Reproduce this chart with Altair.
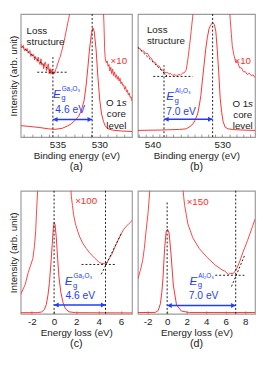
import altair as alt
import pandas as pd

FONT = "Liberation Sans"
RED = "#ff2e2e"
BLUE = "#1e3cff"
INK = "#1b1b1b"

# ---------------- (a) Ga2O3 : O 1s spectrum (binding energy, eV) ----------------
a_main_E = [539.40, 538.30, 537.20, 536.10, 535.33, 534.45, 533.80, 533.36, 532.92, 532.48,
            532.15, 531.82, 531.60, 531.38, 531.16, 530.94, 530.77, 530.61, 530.39, 530.17,
            529.95, 529.73, 529.51, 529.29, 528.96, 528.41, 527.31, 526.10]
a_main_v = [9.3, 8.6, 7.8, 6.7, 6.3, 7.1, 9.0, 10.8, 13.4, 16.8,
            21.6, 29.9, 41.0, 56.0, 72.4, 84.3, 88.8, 85.8, 70.9, 48.5,
            29.9, 18.7, 12.7, 9.0, 6.7, 5.6, 4.9, 4.5]
a_x10_E = [539.40, 539.29, 539.18, 539.07, 538.96, 538.85, 538.74, 538.63, 538.52, 538.41,
           538.30, 538.19, 538.08, 537.97, 537.86, 537.75, 537.64, 537.53, 537.42, 537.31,
           537.20, 537.09, 536.98, 536.87, 536.76, 536.65, 536.54, 536.43, 536.32, 536.21,
           536.10, 535.99, 535.88, 535.77, 535.66, 535.55,
           535.44, 535.33, 535.22, 535.11, 535.00, 534.89, 534.78, 534.67, 534.56, 534.45,
           534.34, 534.23, 534.12, 534.01, 533.91, 533.80, 533.69, 533.58, 533.47,
           532.60, 531.60, 530.80, 530.00, 529.70,
           529.56, 529.45, 529.36, 529.29,
           529.18, 529.07, 528.96, 528.85, 528.74, 528.63, 528.52, 528.41, 528.30, 528.19,
           528.08, 527.97, 527.86, 527.75, 527.64, 527.53, 527.42, 527.31, 527.20, 527.09,
           526.98, 526.87, 526.76, 526.65, 526.54, 526.43, 526.32, 526.21, 526.10]
a_x10_v = [75.7, 72.4, 74.0, 74.6, 70.2, 71.8, 70.0, 72.0, 68.2, 69.1,
           70.4, 65.5, 67.8, 65.8, 67.2, 62.6, 65.5, 63.9, 61.4, 65.0,
           61.0, 59.0, 63.6, 58.4, 59.9, 55.5, 60.4, 60.9, 54.0, 57.1,
           59.5, 51.4, 55.7, 51.1, 55.0, 51.3,
           52.5, 51.8, 55.0, 56.5, 59.5, 61.0, 63.8, 65.2, 68.5, 70.9,
           74.5, 77.2, 81.0, 84.8, 88.0, 92.0, 95.5, 99.0, 103.0,
           250, 500, 850, 400, 150,
           110, 92, 70, 63.4,
           60.4, 61.9, 57.5, 59.0, 53.7, 56.7, 51.5, 55.2, 50.0, 53.0,
           48.5, 50.7, 47.0, 49.3, 45.5, 47.8, 43.3, 44.8, 41.8, 42.5,
           38.8, 41.0, 36.6, 38.1, 34.3, 35.8, 32.1, 32.8, 29.1]
# dashed guide segments: E1, E2, v1, v2
a_dash_E1 = [539.21, 537.42, 535.55, 530.86]
a_dash_E2 = [535.37, 533.91, 535.55, 530.86]
a_dash_v1 = [73.4, 52.7, 0, 0]
a_dash_v2 = [51.0, 52.7, 64.9, 100]
a_arrow = [535.55, 530.86, 14.2]

# ---------------- (b) Al2O3 : O 1s spectrum ----------------
b_main_E = [542.10, 538.91, 536.13, 535.16, 534.60, 534.18, 533.91, 533.53, 533.28, 533.07,
            532.84, 532.61, 532.38, 532.14, 531.89, 531.68, 531.36, 531.13, 530.92, 530.71,
            530.50, 530.29, 530.08, 529.88, 529.60, 529.18, 528.49, 527.10, 525.30]
b_main_v = [5.4, 5.7, 6.2, 6.7, 8.7, 10.8, 13.7, 18.7, 26.1, 33.6,
            46.3, 58.4, 70.9, 80.8, 88.1, 90.8, 93.3, 91.4, 85.8, 70.9,
            52.2, 31.3, 20.1, 12.7, 8.2, 6.7, 6.1, 5.7, 5.4]
b_x10_E = [542.10, 541.82, 541.54, 541.27, 540.99, 540.71, 540.43, 540.16, 539.88, 539.60,
           539.32, 539.04, 538.77, 538.49, 538.21, 537.93, 537.66, 537.38, 537.10, 536.82,
           536.54, 536.27, 535.99, 535.71, 535.43, 535.16, 534.92, 534.70, 534.46, 534.23,
           534.04,
           533.30, 532.40, 531.40, 530.50, 529.60,
           528.98, 528.84, 528.70, 528.56, 528.35, 528.07, 527.79, 527.51, 527.24, 526.96,
           526.68, 526.41, 526.13, 525.85, 525.57, 525.30]
b_x10_v = [72.3, 72.2, 69.9, 70.1, 67.9, 68.1, 64.9, 64.0, 61.1, 60.7,
           58.0, 57.7, 54.9, 54.4, 52.1, 52.8, 51.2, 51.7, 50.1, 50.9,
           49.5, 51.1, 50.4, 51.9, 52.3, 54.7, 63.4, 73.4, 85.8, 98.3,
           106.7,
           220, 550, 900, 500, 180,
           104.5, 94.8, 84.3, 73.9, 67.2, 61.0, 60.7, 56.3, 56.2, 53.1,
           53.1, 50.8, 51.9, 50.0, 50.5, 48.3]
b_dash_E1 = [542.10, 539.88, 538.35, 531.38]
b_dash_E2 = [537.70, 534.23, 538.35, 531.38]
b_dash_v1 = [72.9, 49.3, 0, 0]
b_dash_v2 = [48.5, 49.3, 58.4, 100]
b_arrow = [538.35, 531.38, 14.4]

# ---------------- (c) Ga2O3 : energy-loss spectrum ----------------
c_main_E = [-3.00, -1.52, -1.11, -0.87, -0.70, -0.54, -0.42, -0.30, -0.17, -0.07,
            0.01, 0.09, 0.20, 0.32, 0.44, 0.61, 0.81, 1.02, 1.34, 1.92, 7.00]
c_main_v = [0.9, 0.9, 1.5, 3.4, 7.5, 15.7, 25.4, 38.8, 56.0, 69.4,
            74.3, 72.4, 61.9, 44.8, 29.9, 17.2, 9.0, 4.1, 1.6, 0.9, 0.7]
c_x100_E = [-3.00, -2.59, -2.32, -2.10, -1.91, -1.77, -1.65, -1.57, -1.48, -1.43,
            -1.0, 0.0, 1.0,
            1.47, 1.55, 1.65, 1.75, 1.92, 2.12, 2.33, 2.57, 2.88, 3.15,
            3.42, 3.70, 3.97, 4.24, 4.52, 4.66, 4.79, 4.95, 5.20, 5.40,
            5.61, 5.82, 6.02, 6.26, 6.51, 6.75, 7.00]
c_x100_v = [15.7, 23.9, 33.6, 39.6, 44.8, 54.5, 67.9, 84.3, 99.3, 108.2,
            300, 700, 300,
            106.7, 95.5, 88.1, 80.6, 73.1, 67.2, 61.9, 57.5, 53.2, 50.0,
            47.4, 44.8, 42.5, 41.0, 40.7, 41.0, 42.2, 44.8, 48.5, 53.0,
            57.1, 61.2, 64.9, 68.7, 71.3, 73.5, 75.7]
c_dash_E1 = [4.24, 2.47, 0.0, 4.62]
c_dash_E2 = [6.02, 5.47, 0.0, 4.62]
c_dash_v1 = [32.1, 40.1, 0, 0]
c_dash_v2 = [64.9, 40.1, 100, 100]
c_arrow = [0.0, 4.62, 7.2]

# ---------------- (d) Al2O3 : energy-loss spectrum ----------------
d_main_E = [-3.00, -1.22, -0.92, -0.69, -0.55, -0.43, -0.26, -0.10, 0.04, 0.20,
            0.40, 0.63, 0.96, 1.46, 2.28, 9.00]
d_main_v = [1.0, 1.1, 2.6, 8.2, 17.2, 28.4, 53.2, 66.9, 68.7, 65.7,
            48.3, 23.4, 7.2, 2.2, 1.0, 1.0]
d_x150_E = [-3.00, -2.75, -2.51, -2.34, -2.18, -1.94, -1.75,
            -1.0, 0.0, 1.0,
            1.56, 1.69, 1.79, 2.12, 2.62, 3.27, 4.11, 4.93, 5.60, 5.92,
            6.25, 6.50, 6.75, 7.08, 7.41, 7.74, 8.23, 8.73, 9.00]
d_x150_v = [28.4, 35.1, 43.3, 53.0, 65.7, 83.1, 103.0,
            300, 700, 300,
            106.7, 95.5, 88.1, 73.1, 61.9, 53.2, 45.7, 39.6, 35.8, 34.6,
            32.1, 32.9, 32.6, 35.8, 42.0, 49.5, 59.5, 70.7, 76.9]
d_dash_E1 = [6.59, 4.93, 0.0, 7.02]
d_dash_E2 = [7.91, 7.90, 0.0, 7.02]
d_dash_v1 = [22.2, 31.3, 0, 0]
d_dash_v2 = [47.0, 31.3, 91.8, 100]
d_arrow = [0.0, 7.02, 6.7]


def label(E, v, text, X, Y, **mk):
    df = pd.DataFrame({"E": [E], "v": [v], "t": [text]})
    style = dict(font=FONT, fontSize=10, color=INK, align="left", baseline="middle")
    style.update(mk)
    return alt.Chart(df).mark_text(**style).encode(x=X, y=Y, text="t:N")


def build(main_E, main_v, sc_E, sc_v, dE1, dE2, dv1, dv2, arrow,
          xdom, reverse, ticks, labeled, xtitle, ytitle, caption, w, h,
          scale_text, scale_pos, eg_pos, eg_sup, gap_pos, gap_text,
          loss_pos=None, core_pos=None):
    lab_list = "[" + ",".join(str(v) for v in labeled) + "]"
    X = alt.X("E:Q",
              scale=alt.Scale(domain=xdom, reverse=reverse, nice=False, zero=False),
              axis=alt.Axis(values=ticks, title=xtitle,
                            labelExpr="indexof(" + lab_list + ", datum.value) >= 0 ? ((datum.value < 0 ? '-' : '') + abs(datum.value)) : ''",
                            offset=-3, tickSize=3, tickColor="#808080", tickWidth=0.8,
                            domain=False, labelPadding=3, titlePadding=1,
                            labelFlush=False))
    if ytitle:
        yax = alt.Axis(title=ytitle, labels=False, ticks=False, domain=False,
                       grid=False, titlePadding=2)
    else:
        yax = None
    Y = alt.Y("v:Q", scale=alt.Scale(domain=[0, 100], nice=False, zero=False), axis=yax)

    main = alt.Chart(pd.DataFrame({"E": main_E, "v": main_v})).mark_line(
        color=RED, strokeWidth=1, clip=True).encode(x=X, y=Y)
    scaled = alt.Chart(pd.DataFrame({"E": sc_E, "v": sc_v})).mark_line(
        color=RED, strokeWidth=0.9, clip=True).encode(x=X, y=Y)
    dash = alt.Chart(pd.DataFrame({"E": dE1, "E2": dE2, "v": dv1, "v2": dv2})).mark_rule(
        color=INK, strokeDash=[2, 2], strokeWidth=1).encode(
        x=X, x2=alt.X2("E2"), y=Y, y2=alt.Y2("v2"))
    arr = alt.Chart(pd.DataFrame({"E": [arrow[0]], "E2": [arrow[1]], "v": [arrow[2]]})).mark_rule(
        color=BLUE, strokeWidth=1.5).encode(x=X, x2=alt.X2("E2"), y=Y)
    left_E = max(arrow[0], arrow[1]) if reverse else min(arrow[0], arrow[1])
    right_E = min(arrow[0], arrow[1]) if reverse else max(arrow[0], arrow[1])
    headL = alt.Chart(pd.DataFrame({"E": [left_E], "v": [arrow[2]]})).mark_point(
        shape="triangle-left", filled=True, color=BLUE, opacity=1, size=26, xOffset=2.5).encode(x=X, y=Y)
    headR = alt.Chart(pd.DataFrame({"E": [right_E], "v": [arrow[2]]})).mark_point(
        shape="triangle-right", filled=True, color=BLUE, opacity=1, size=26, xOffset=-2.5).encode(x=X, y=Y)

    layers = [main, scaled, dash, arr, headL, headR]
    layers.append(label(scale_pos[0], scale_pos[1], scale_text, X, Y, color=RED, align="center"))
    layers.append(label(eg_pos[0], eg_pos[1], "E", X, Y, color=BLUE, fontSize=12, fontStyle="italic"))
    layers.append(label(eg_pos[0], eg_pos[1], "g", X, Y, color=BLUE, fontSize=8, dx=8.5, dy=4.5))
    layers.append(label(eg_pos[0], eg_pos[1], eg_sup, X, Y, color=BLUE, fontSize=6.5, dx=9, dy=-5.5))
    layers.append(label(gap_pos[0], gap_pos[1], gap_text, X, Y, color=BLUE, fontSize=10.5))
    if loss_pos:
        layers.append(label(loss_pos[0], loss_pos[1], "Loss", X, Y, baseline="alphabetic"))
        layers.append(label(loss_pos[0], loss_pos[2], "structure", X, Y, baseline="alphabetic"))
    if core_pos:
        layers.append(label(core_pos[0], core_pos[1], "O 1", X, Y, align="right", dx=5.5))
        layers.append(label(core_pos[0], core_pos[1], "s", X, Y, fontStyle="italic", dx=5.5))
        layers.append(label(core_pos[0], core_pos[2], "core", X, Y, align="center"))
        layers.append(label(core_pos[0], core_pos[3], "level", X, Y, align="center"))

    return alt.layer(*layers).properties(
        width=w, height=h,
        title=alt.TitleParams(caption, orient="bottom", offset=1, frame="group",
                              font=FONT, fontSize=11, fontWeight="normal", color=INK))


W1, W2, H1, H2 = 114, 120, 126, 126

pa = build(a_main_E, a_main_v, a_x10_E, a_x10_v, a_dash_E1, a_dash_E2, a_dash_v1, a_dash_v2, a_arrow,
           [526.1, 539.4], True, list(range(527, 540)), [535, 530],
           "Binding energy (eV)", "Intensity (arb. unit)", "(a)", W1, H1,
           "\u00d710", (527.67, 61.9), (535.55, 35.0), "Ga\u2082O\u2083", (535.26, 21.6), "4.6 eV",
           loss_pos=(538.7, 83.9, 75.1), core_pos=(527.97, 27.6, 18.3, 9.2))
pb = build(b_main_E, b_main_v, b_x10_E, b_x10_v, b_dash_E1, b_dash_E2, b_dash_v1, b_dash_v2, b_arrow,
           [525.3, 542.1], True, list(range(526, 543)), [540, 530],
           "Binding energy (eV)", None, "(b)", W2, H1,
           "\u00d710", (527.06, 61.4), (538.03, 33.0), "Al\u2082O\u2083", (538.03, 20.5), "7.0 eV",
           loss_pos=(540.8, 84.6, 75.4), core_pos=(527.06, 27.0, 17.9, 8.7))
pc = build(c_main_E, c_main_v, c_x100_E, c_x100_v, c_dash_E1, c_dash_E2, c_dash_v1, c_dash_v2, c_arrow,
           [-3, 7], False, [-2, 0, 2, 4, 6], [-2, 0, 2, 4, 6],
           "Energy loss (eV)", "Intensity (arb. unit)", "(c)", W1, H2,
           "\u00d7100", (2.88, 91.4), (0.96, 26.3), "Ga\u2082O\u2083", (1.02, 14.2), "4.6 eV")
pd_ = build(d_main_E, d_main_v, d_x150_E, d_x150_v, d_dash_E1, d_dash_E2, d_dash_v1, d_dash_v2, d_arrow,
            [-3, 9], False, [-2, 0, 2, 4, 6, 8], [-2, 0, 2, 4, 6, 8],
            "Energy loss (eV)", None, "(d)", W2, H2,
            "\u00d7150", (3.12, 90.5), (2.28, 26.6), "Al\u2082O\u2083", (2.22, 14.2), "7.0 eV")

chart = alt.concat(pa, pb, pc, pd_, columns=2, spacing={"row": 55, "column": 6},
                   bounds="flush").properties(padding=0).configure_view(
    stroke="#9c9c9c", strokeWidth=1.2).configure_axis(
    labelFont=FONT, titleFont=FONT, labelFontSize=10, titleFontSize=10,
    labelColor=INK, titleColor=INK, titleFontWeight="normal", grid=False)

chart.save("out.html", embed_options={"renderer": "svg", "actions": False})
